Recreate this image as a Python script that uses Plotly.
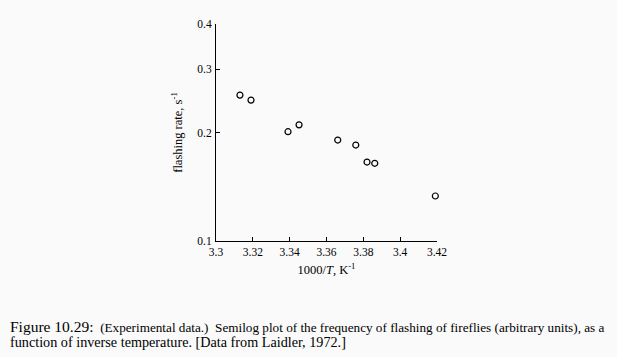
import plotly.graph_objects as go

inv_temp = [3.3130, 3.3190, 3.3391, 3.3451, 3.3661, 3.3759, 3.3820, 3.3862, 3.4191]
flash_rate = [0.254, 0.246, 0.201, 0.210, 0.1906, 0.1846, 0.1656, 0.1643, 0.1333]
x_ticks = [3.3, 3.32, 3.34, 3.36, 3.38, 3.4, 3.42]
x_tick_labels = ["3.3", "3.32", "3.34", "3.36", "3.38", "3.4", "3.42"]
y_ticks = [0.1, 0.2, 0.3, 0.4]
y_tick_labels = ["0.1", "0.2", "0.3", "0.4"]

serif = "Liberation Serif, DejaVu Serif, serif"
bg = "#fafafa"

fig = go.Figure()
fig.add_trace(go.Scatter(
    x=inv_temp, y=flash_rate, mode="markers", cliponaxis=False,
    marker=dict(symbol="circle-open", size=6, color="black", line=dict(width=1.2, color="black")),
    showlegend=False,
))

fig.update_layout(
    width=617, height=357,
    margin=dict(l=216, r=180, t=24, b=116),
    paper_bgcolor=bg, plot_bgcolor=bg,
    font=dict(family=serif, size=11, color="black"),
    xaxis=dict(
        range=[3.3, 3.42], tickvals=x_ticks, ticktext=x_tick_labels,
        ticks="inside", ticklen=4, tickwidth=1, tickcolor="black",
        showline=True, linecolor="black", linewidth=1, showgrid=False, zeroline=False,
        tickfont=dict(family=serif, size=11.5),
        title=dict(text="1000/<i>T</i>, K<sup>-1</sup>", font=dict(family=serif, size=12.5), standoff=8),
    ),
    yaxis=dict(
        type="log", range=[-1, -0.39794], tickvals=y_ticks, ticktext=y_tick_labels,
        ticks="inside", ticklen=4, tickwidth=1, tickcolor="black",
        showline=True, linecolor="black", linewidth=1, showgrid=False, zeroline=False,
        ticklabelstandoff=1,
        tickfont=dict(family=serif, size=11.5),
        title=dict(text="flashing rate, s<sup>-1</sup>", font=dict(family=serif, size=12.5), standoff=11),
    ),
)

caption = (
    "<span style='font-size:15.5px'>Figure 10.29:</span>"
    "<span style='font-size:13.2px'>  (Experimental data.)  Semilog plot of the frequency of flashing"
    " of fireflies (arbitrary units), as a</span><br>"
    "<span style='font-size:14.2px'>function of inverse temperature. [Data from Laidler, 1972.]</span>"
)
fig.add_annotation(
    xref="paper", yref="paper", x=-208/221, y=-92.5/217, xanchor="left", yanchor="middle",
    showarrow=False, align="left", text=caption,
    font=dict(family=serif, size=11.5, color="black"),
)

fig.write_html(
    "out.html",
    config={"displayModeBar": False},
    post_script="document.body.style.margin='0';document.body.style.background='#fafafa';",
)
